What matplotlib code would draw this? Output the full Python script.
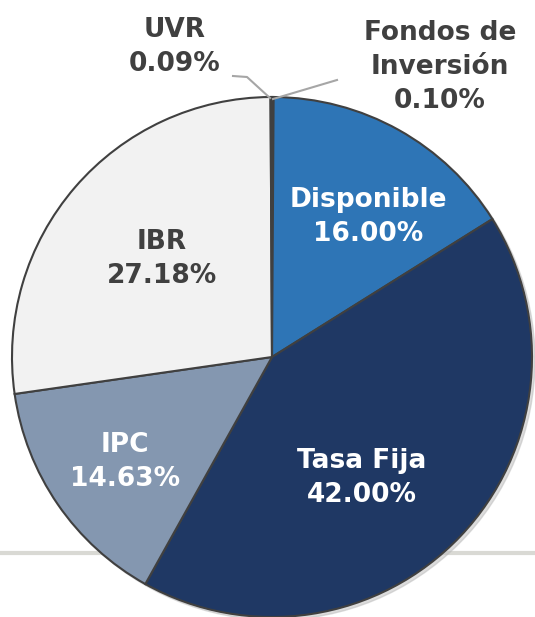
import matplotlib
matplotlib.use("Agg")
import matplotlib.pyplot as plt

# data, clockwise from the top
labels = ["Fondos de\nInversión", "Disponible", "Tasa Fija", "IPC", "IBR", "UVR"]
shares = [0.10, 16.00, 42.00, 14.63, 27.18, 0.09]
colors = ["#404040", "#2e75b6", "#1f3864", "#8497b0", "#f2f2f2", "#404040"]

W, H = 535, 617
cx, cy, r = 272, H - 357, 260

fig = plt.figure(figsize=(W / 100, H / 100), dpi=100)
ax = fig.add_axes([0, 0, 1, 1])

# grey rule behind the pie
ax.plot([0, W], [H - 553, H - 553], color="#d9d9d4", lw=3, zorder=0)

# soft shadow
ax.add_patch(plt.Circle((cx + 3, cy - 3), r, color="#bbbbbb", alpha=0.5, zorder=1))

wedges, _ = ax.pie(shares, colors=colors, startangle=90, counterclock=False,
                   center=(cx, cy), radius=r, frame=True,
                   wedgeprops=dict(edgecolor="#404040", linewidth=1.5))
for w in wedges:
    w.set_zorder(2)

ax.set_xlim(0, W)
ax.set_ylim(0, H)
ax.set_aspect("equal")
ax.axis("off")

fs = 19
ls = 1.42
inner = {"Disponible": ((368, 217), "white"),
         "Tasa Fija": ((362, 478), "white"),
         "IPC": ((125, 462), "white"),
         "IBR": ((162, 259), "#404040")}
for lab, val in zip(labels, shares):
    if lab in inner:
        (x, y), c = inner[lab]
        ax.text(x, H - y, f"{lab}\n{val:.2f}%", ha="center", va="center", color=c,
                fontsize=fs, fontweight="bold", linespacing=ls, zorder=5)

# outside labels with leader lines
ax.text(175, H - 47, f"UVR\n{shares[5]:.2f}%", ha="center", va="center",
        color="#404040", fontsize=fs, fontweight="bold", linespacing=ls)
ax.plot([233, 247, 270], [H - 76, H - 77, H - 98], color="#a6a6a6", lw=1.5, zorder=3)
ax.text(440, H - 67, f"{labels[0]}\n{shares[0]:.2f}%", ha="center", va="center",
        color="#404040", fontsize=fs, fontweight="bold", linespacing=ls)
ax.plot([273, 337], [H - 99, H - 80], color="#a6a6a6", lw=1.5, zorder=3)

fig.savefig("out.png", dpi=100)
